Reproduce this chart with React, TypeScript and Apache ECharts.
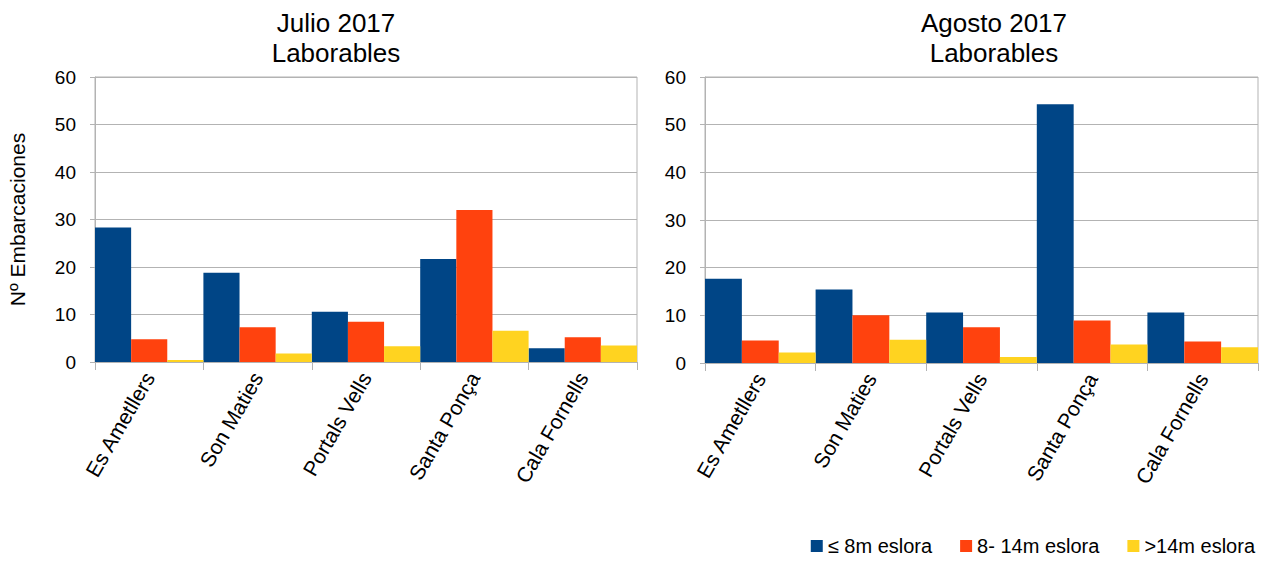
import React, { useEffect, useRef } from "react";
import * as echarts from "echarts";

const categories = ["Es Ametllers", "Son Maties", "Portals Vells", "Santa Ponça", "Cala Fornells"];
const seriesNames = ["≤ 8m eslora", "8- 14m eslora", ">14m eslora"];
const colors = ["#004586", "#ff420e", "#ffd320"];

const julioSmall = [28.3, 18.8, 10.6, 21.7, 2.9];
const julioMedium = [4.8, 7.3, 8.5, 32.0, 5.2];
const julioLarge = [0.4, 1.8, 3.3, 6.6, 3.5];

const agostoSmall = [17.7, 15.4, 10.6, 54.3, 10.6];
const agostoMedium = [4.7, 10.0, 7.5, 8.9, 4.5];
const agostoLarge = [2.2, 4.9, 1.25, 3.9, 3.3];

const titles = ["Julio 2017\nLaborables", "Agosto 2017\nLaborables"];
const yAxisName = "Nº Embarcaciones";

const FONT = "'Liberation Sans', Arial, sans-serif";
const GRID = "#b3b3b3";

export default function App() {
  const ref = useRef<HTMLDivElement>(null);
  useEffect(() => {
    if (!ref.current) return;
    const chart = echarts.init(ref.current, undefined, { renderer: "svg" });
    const grids = [
      { left: 95, right: 629, top: 77, bottom: 201 },
      { left: 705, right: 8, top: 77, bottom: 200 },
    ];
    const data = [
      [julioSmall, julioMedium, julioLarge],
      [agostoSmall, agostoMedium, agostoLarge],
    ];
    const xAxis = grids.map((_, i) => ({
      type: "category",
      gridIndex: i,
      data: categories,
      boundaryGap: true,
      axisLine: { show: true, lineStyle: { color: GRID } },
      axisTick: { show: true, length: 8, lineStyle: { color: GRID } },
      axisLabel: {
        rotate: 60,
        fontSize: 21,
        color: "#000",
        fontFamily: FONT,
        margin: 12,
        interval: 0,
      },
    }));
    const yAxis = grids.map((_, i) => ({
      type: "value",
      gridIndex: i,
      min: 0,
      max: 60,
      interval: 10,
      name: i === 0 ? yAxisName : "",
      nameLocation: "middle",
      nameGap: 67,
      nameTextStyle: { fontSize: 21, color: "#000", fontFamily: FONT },
      axisLine: { show: true, lineStyle: { color: GRID } },
      axisTick: { show: true, length: 5, lineStyle: { color: GRID } },
      splitLine: { show: true, lineStyle: { color: GRID } },
      axisLabel: { fontSize: 19, color: "#000", fontFamily: FONT, margin: 19 },
    }));
    const series: any[] = [];
    data.forEach((set, gi) => {
      set.forEach((vals, si) => {
        series.push({
          type: "bar",
          name: seriesNames[si],
          xAxisIndex: gi,
          yAxisIndex: gi,
          data: vals,
          barGap: "0%",
          barCategoryGap: "0%",
          itemStyle: { color: colors[si] },
        });
      });
    });
    const titleStyle = { fontSize: 26, fontWeight: "normal", color: "#000", fontFamily: FONT, lineHeight: 30 };
    chart.setOption({
      animation: false,
      backgroundColor: "#fff",
      color: colors,
      title: [
        { text: titles[0], left: 331, top: 3, textAlign: "center", textStyle: titleStyle },
        { text: titles[1], left: 989, top: 3, textAlign: "center", textStyle: titleStyle },
      ],
      legend: {
        data: seriesNames,
        right: 6,
        bottom: 2,
        icon: "rect",
        itemWidth: 12,
        itemHeight: 12,
        itemGap: 28,
        textStyle: { fontSize: 20, color: "#000", fontFamily: FONT },
      },
      grid: grids.map((g) => ({ ...g, show: true, borderColor: GRID, borderWidth: 1 })),
      xAxis,
      yAxis,
      series,
    });
    return () => chart.dispose();
  }, []);
  return (
    <div
      ref={ref}
      style={{ position: "fixed", left: 0, top: 0, width: 1266, height: 563, background: "#fff" }}
    />
  );
}
